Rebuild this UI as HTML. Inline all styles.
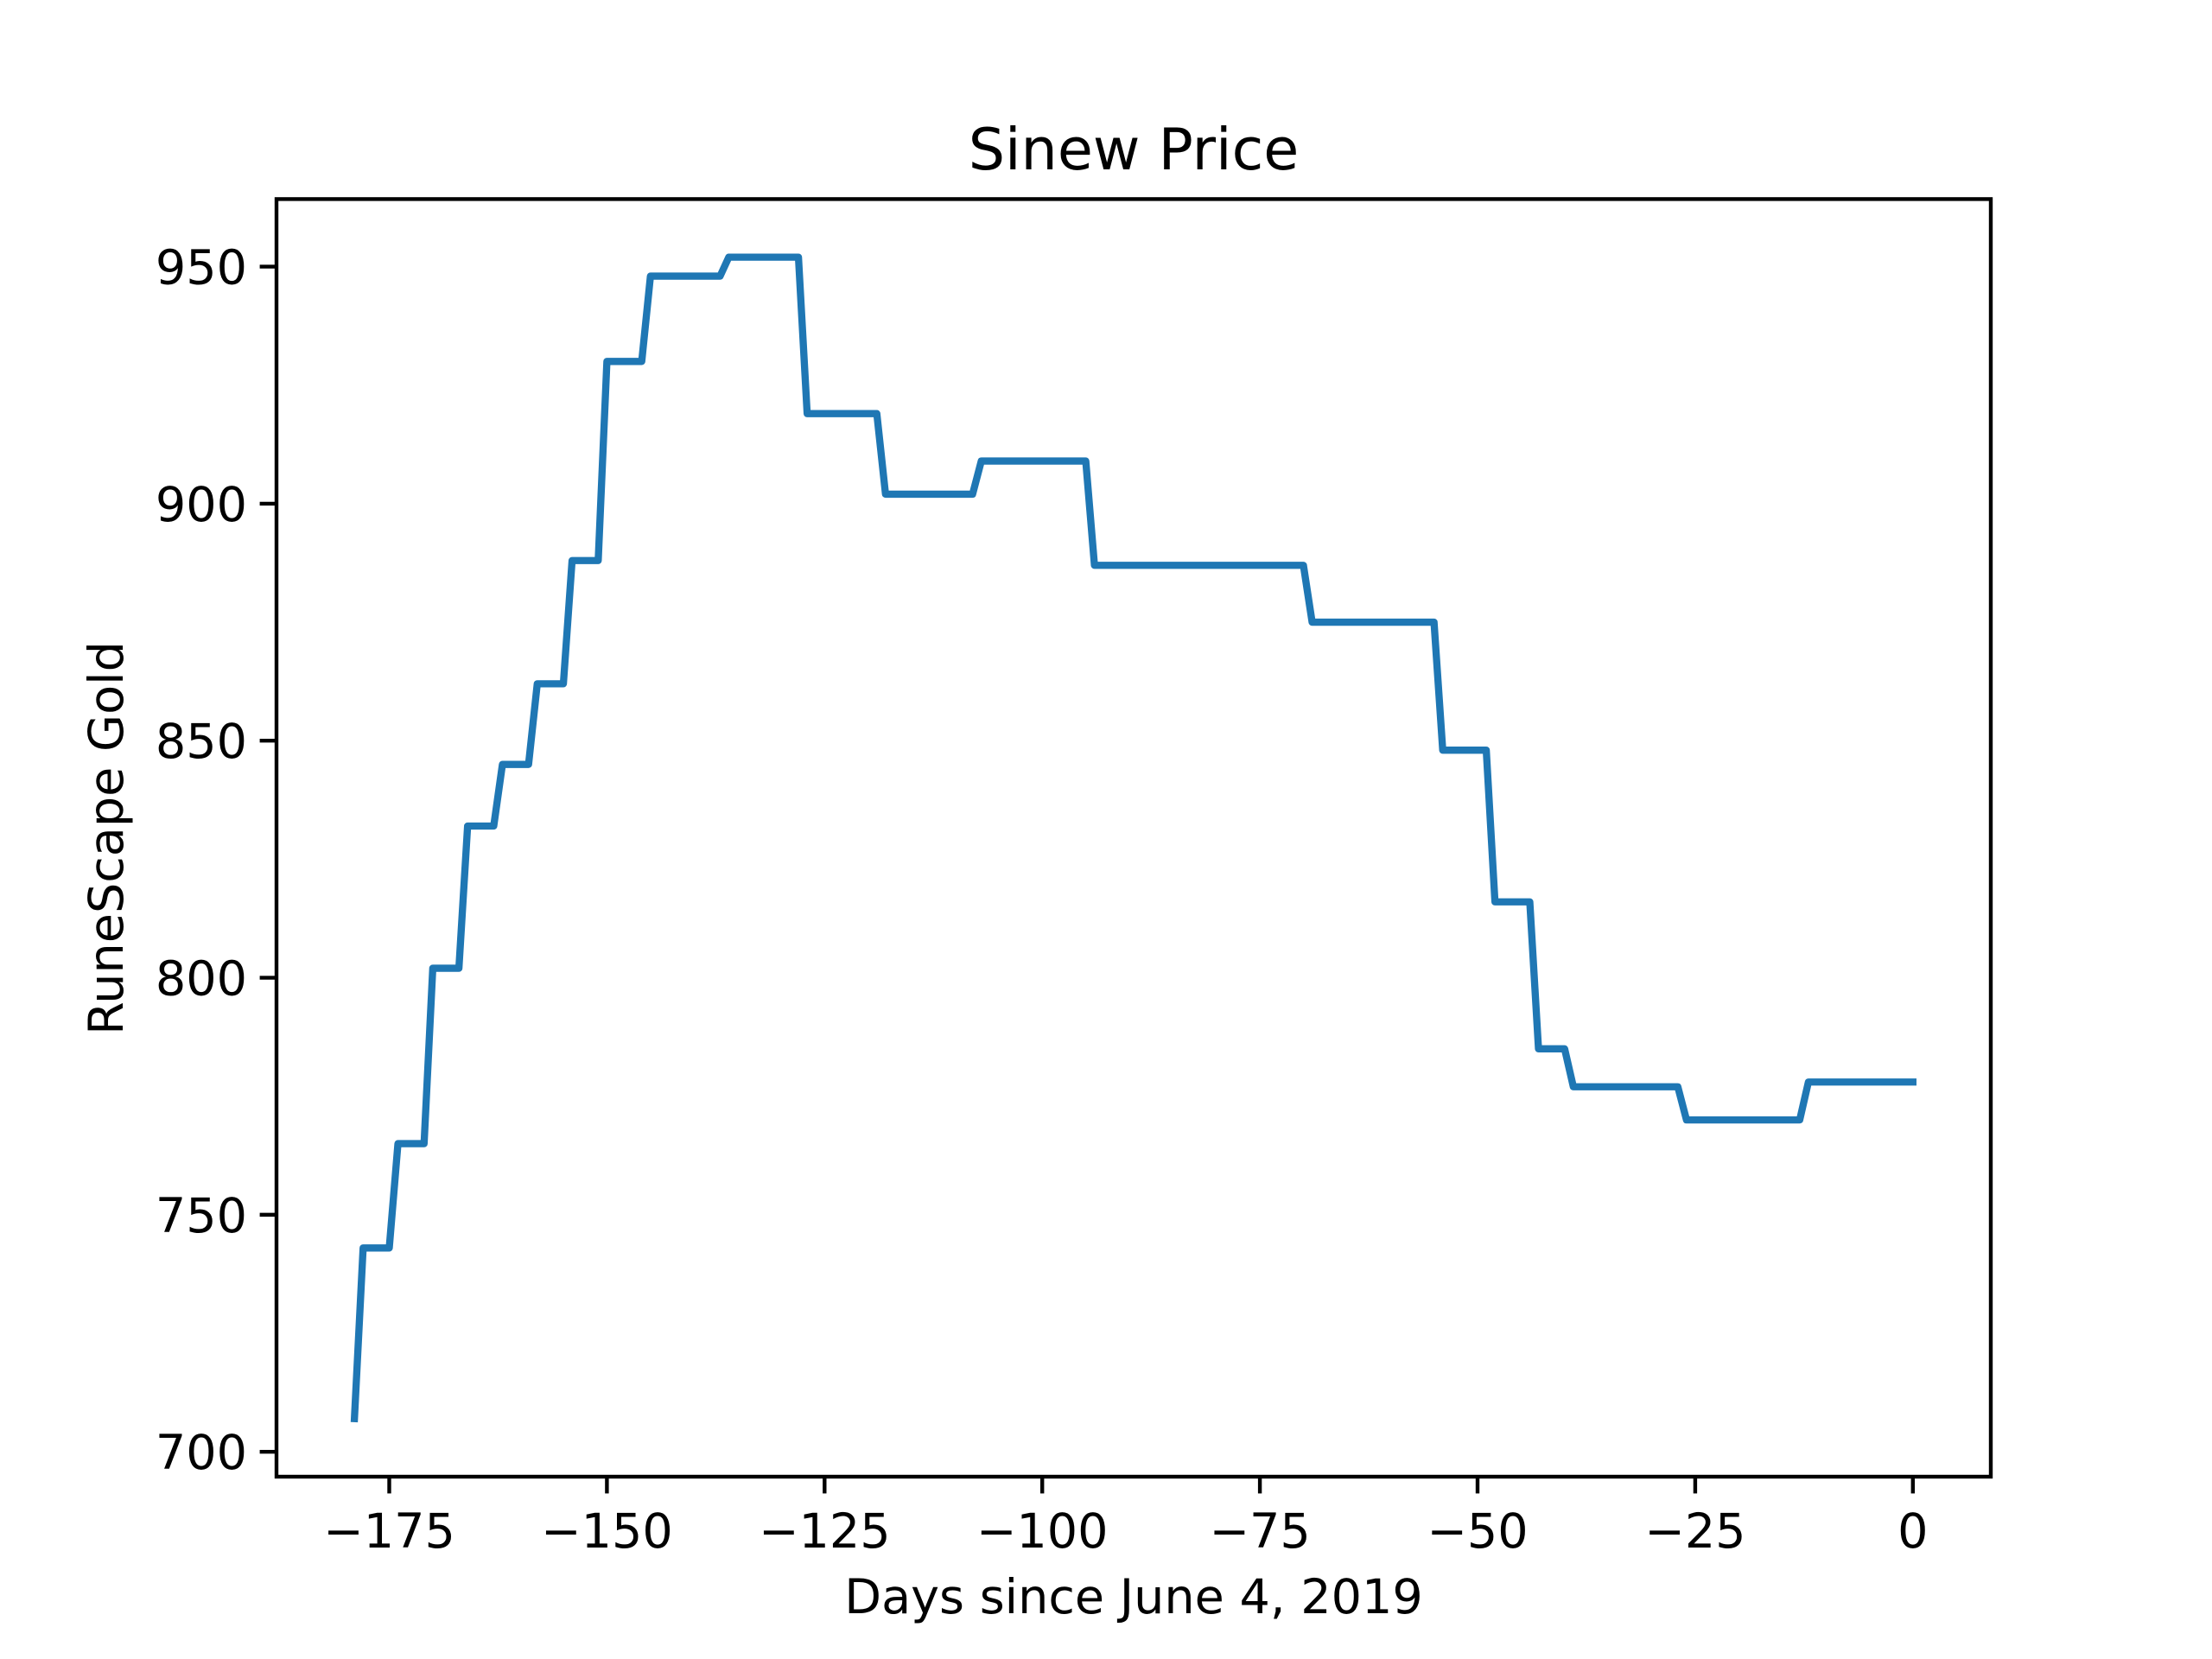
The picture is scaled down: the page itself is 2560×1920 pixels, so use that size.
<!DOCTYPE html>
<html><head><meta charset="utf-8"><style>
html,body{margin:0;padding:0;background:#fff;}
svg{display:block;font-family:"DejaVu Sans","Liberation Sans",sans-serif;}
</style></head><body>
<svg id="chart" width="2560" height="1920" viewBox="0 0 2560 1920" xmlns="http://www.w3.org/2000/svg">
<rect width="2560" height="1920" fill="#fff"/>
<text x="1312" y="196" font-size="66.7" text-anchor="middle">Sinew Price</text>
<g id="plot"></g>
<text x="1312" y="1867" font-size="55.6" text-anchor="middle">Days since June 4, 2019</text>
<text transform="translate(142,970) rotate(-90)" font-size="55.6" text-anchor="middle">RuneScape Gold</text>
</svg>
<script>
const days = [-179,-178,-175,-174,-171,-170,-167,-166,-163,-162,-159,-158,-155,-154,-151,-150,-146,-145,-137,-136,-128,-127,-119,-118,-108,-107,-95,-94,-70,-69,-55,-54,-49,-48,-44,-43,-40,-39,-27,-26,-13,-12,0];
const prices = [707,743,743,765,765,802,802,832,832,845,845,862,862,888,888,930,930,948,948,952,952,919,919,902,902,909,909,887,887,875,875,848,848,816,816,785,785,777,777,770,770,778,778];
const xTicks = [-175,-150,-125,-100,-75,-50,-25,0];
const yTicks = [700,750,800,850,900,950];

const L=320,R=2304,T=230.4,B=1709;
const xmin=Math.min(...days),xmax=Math.max(...days);
const ymin=Math.min(...prices),ymax=Math.max(...prices);
const xm=(xmax-xmin)*0.05, ym=(ymax-ymin)*0.05;
const x0=xmin-xm,x1=xmax+xm,y0=ymin-ym,y1=ymax+ym;
const sx=v=>L+(v-x0)/(x1-x0)*(R-L);
const sy=v=>B-(v-y0)/(y1-y0)*(B-T);
const NS="http://www.w3.org/2000/svg";
const g=document.getElementById('plot');
function mk(tag,attrs){const e=document.createElementNS(NS,tag);for(const k in attrs)e.setAttribute(k,attrs[k]);g.appendChild(e);return e;}

const line=mk('polyline',{points:days.map((d,i)=>sx(d)+','+sy(prices[i])).join(' '),fill:'none',stroke:'#1f77b4','stroke-width':8.33,'stroke-linejoin':'round','stroke-linecap':'square'});



xTicks.forEach(t=>{
  const tk=mk('line',{x1:sx(t),x2:sx(t),y1:B,y2:B+19.4,stroke:'#000','stroke-width':4.4});
  
  
  const lb=mk('text',{x:sx(t),y:B+82,'font-size':55.6,'text-anchor':'middle'});
  lb.textContent=t<0?'\u2212'+Math.abs(t):String(t);
  
  
});
yTicks.forEach(t=>{
  const tk=mk('line',{x1:L-19.4,x2:L,y1:sy(t),y2:sy(t),stroke:'#000','stroke-width':4.4});
  
  
  const lb=mk('text',{x:L-34,y:sy(t)+20,'font-size':55.6,'text-anchor':'end'});
  lb.textContent=String(t);
  
  
});
const fr=mk('rect',{x:L,y:T,width:R-L,height:B-T,fill:'none',stroke:'#000','stroke-width':4.4});


</script>
</body></html>
